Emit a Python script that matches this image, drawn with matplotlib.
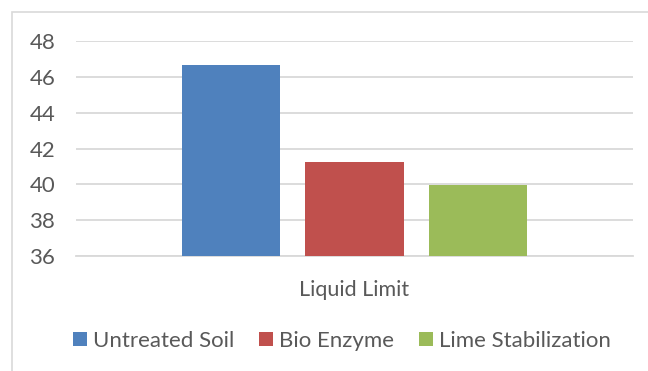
import matplotlib.pyplot as plt
from matplotlib.patches import Rectangle
import numpy as np

# data
categories = ['Liquid Limit']
series_names = ['Untreated Soil', 'Bio Enzyme', 'Lime Stabilization']
series_values = [[46.65], [41.25], [39.95]]
series_colors = ['#4F81BD', '#C0504D', '#9BBB59']
y_ticks = [36, 38, 40, 42, 44, 46, 48]

plt.rcParams['font.family'] = ['Lato', 'DejaVu Sans']
text_color = '#595959'
grid_color = '#D9D9D9'

W, H = 648, 371
fig = plt.figure(figsize=(W / 100, H / 100), dpi=100)

# chart border (outer frame)
fig.patches.append(Rectangle((12 / W, -0.05), 1.2, 1 - 12 / H + 0.05,
                             transform=fig.transFigure, fill=False,
                             edgecolor=grid_color, linewidth=1.2))

ax = fig.add_axes([76 / W, (H - 256) / H, (633 - 76) / W, (256 - 41) / H])

x = np.arange(len(categories))
bar_w = 0.176
step = 0.222
for i, (name, vals, col) in enumerate(zip(series_names, series_values, series_colors)):
    offset = (i - (len(series_names) - 1) / 2) * step
    ax.bar(x + offset, np.array(vals) - y_ticks[0], bottom=y_ticks[0],
           width=bar_w, color=col, label=name, zorder=3)

ax.set_xlim(-0.5, 0.5)
ax.set_ylim(y_ticks[0], y_ticks[-1])
ax.set_yticks(y_ticks)
ax.set_xticks(x)
ax.set_xticklabels(categories)
ax.yaxis.grid(True, color=grid_color, linewidth=1.3, zorder=0)
ax.set_axisbelow(True)
for s in ['top', 'right', 'left']:
    ax.spines[s].set_visible(False)
ax.spines['bottom'].set_color(grid_color)
ax.spines['bottom'].set_linewidth(1.3)
ax.tick_params(axis='y', length=0, pad=15, labelsize=16, labelcolor=text_color)
ax.tick_params(axis='x', length=0, pad=17, labelsize=15.5, labelcolor=text_color)

handles, labels = ax.get_legend_handles_labels()
leg = fig.legend(handles, labels, loc='center', ncol=3,
                 bbox_to_anchor=(342 / W, (H - 341) / H), frameon=False,
                 fontsize=16, handlelength=0.62, handleheight=0.62,
                 handletextpad=0.3, columnspacing=1.1)
for t in leg.get_texts():
    t.set_color(text_color)

fig.savefig('out.png', dpi=100, facecolor='white')
